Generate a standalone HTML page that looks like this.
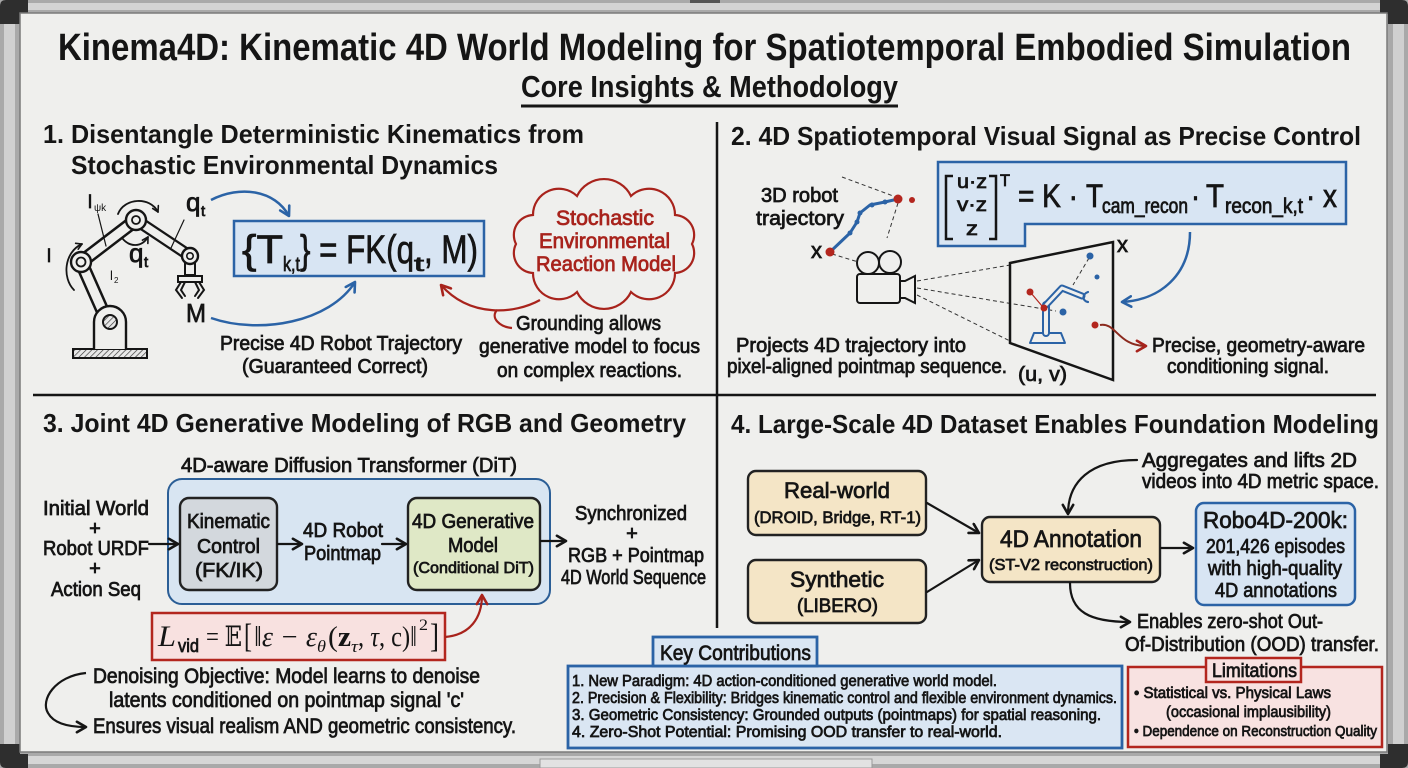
<!DOCTYPE html>
<html><head><meta charset="utf-8">
<style>
html,body{margin:0;padding:0;background:#efefed;overflow:hidden;}
svg{display:block}
text{font-family:"Liberation Sans","DejaVu Sans",sans-serif;fill:#151515;}
.b{font-weight:700}
.m{stroke:#151515;stroke-width:0.75}
.r{fill:#a8231c;stroke:#a8231c;stroke-width:0.75}
.s{font-family:"Liberation Serif","DejaVu Serif",serif;}
.i{font-style:italic}
</style></head><body>
<svg width="1408" height="768" viewBox="0 0 1408 768" xmlns="http://www.w3.org/2000/svg">
<defs>
<marker id="mb" viewBox="0 0 10 10" refX="8" refY="5" markerWidth="13" markerHeight="13" markerUnits="userSpaceOnUse" orient="auto"><path d="M1,1 L8,5 L1,9" fill="none" stroke="#2b63a6" stroke-width="2" stroke-linecap="round" stroke-linejoin="round"/></marker>
<marker id="mr" viewBox="0 0 10 10" refX="8" refY="5" markerWidth="13" markerHeight="13" markerUnits="userSpaceOnUse" orient="auto"><path d="M1,1 L8,5 L1,9" fill="none" stroke="#a8231c" stroke-width="2" stroke-linecap="round" stroke-linejoin="round"/></marker>
<marker id="mk" viewBox="0 0 10 10" refX="8" refY="5" markerWidth="13" markerHeight="13" markerUnits="userSpaceOnUse" orient="auto"><path d="M1,1 L8,5 L1,9" fill="none" stroke="#151515" stroke-width="2" stroke-linecap="round" stroke-linejoin="round"/></marker>
<marker id="ms" viewBox="0 0 10 10" refX="8" refY="5" markerWidth="8" markerHeight="8" markerUnits="userSpaceOnUse" orient="auto"><path d="M1,1 L8,5 L1,9" fill="none" stroke="#151515" stroke-width="2" stroke-linecap="round" stroke-linejoin="round"/></marker>
<pattern id="hatch" width="4" height="4" patternUnits="userSpaceOnUse" patternTransform="rotate(45)"><rect width="4" height="4" fill="#e8e8e8"/><line x1="0" y1="0" x2="0" y2="4" stroke="#333" stroke-width="1.3"/></pattern>
</defs>

<!-- frame -->
<rect x="0" y="0" width="1408" height="768" fill="#a9a9a9"/>
<rect x="4" y="0" width="11" height="768" fill="#d0d0d0"/>
<rect x="1393" y="0" width="11" height="768" fill="#d0d0d0"/>
<rect x="0" y="3" width="1408" height="7" fill="#d3d3d3"/>
<rect x="0" y="756" width="1408" height="8" fill="#d6d6d6"/>
<rect x="540" y="759" width="332" height="9" fill="#e2e2e2" stroke="#999" stroke-width="1"/>
<rect x="690" y="0" width="30" height="3" fill="#555"/>
<path d="M0,24 V6 Q0,0 6,0 H28 V14 H20 V24 Z" fill="#2e2e2e"/>
<path d="M1408,24 V6 Q1408,0 1402,0 H1380 V14 H1388 V24 Z" fill="#2e2e2e"/>
<path d="M0,744 V762 Q0,768 6,768 H28 V754 H20 V744 Z" fill="#2e2e2e"/>
<path d="M1408,744 V762 Q1408,768 1402,768 H1380 V754 H1388 V744 Z" fill="#2e2e2e"/>
<rect x="20" y="13" width="1367" height="739" fill="#efefed" stroke="#7a7a7a" stroke-width="1.5"/>

<!-- title -->
<text x="58" y="60" font-size="38" class="b" textLength="1293" lengthAdjust="spacingAndGlyphs">Kinema4D: Kinematic 4D World Modeling for Spatiotemporal Embodied Simulation</text>
<text x="521" y="97" font-size="31" class="b" textLength="377" lengthAdjust="spacingAndGlyphs">Core Insights &amp; Methodology</text>
<line x1="521" y1="106" x2="898" y2="106" stroke="#151515" stroke-width="3"/>

<!-- dividers -->
<line x1="33" y1="395" x2="1376" y2="395" stroke="#151515" stroke-width="2.5"/>
<line x1="717" y1="122" x2="717" y2="628" stroke="#151515" stroke-width="2.5"/>

<!-- headings -->
<text x="43" y="143" font-size="26" class="b" textLength="541" lengthAdjust="spacingAndGlyphs">1. Disentangle Deterministic Kinematics from</text>
<text x="71" y="174" font-size="26" class="b" textLength="427" lengthAdjust="spacingAndGlyphs">Stochastic Environmental Dynamics</text>
<text x="731" y="145" font-size="26" class="b" textLength="630" lengthAdjust="spacingAndGlyphs">2. 4D Spatiotemporal Visual Signal as Precise Control</text>
<text x="43" y="432" font-size="26" class="b" textLength="643" lengthAdjust="spacingAndGlyphs">3. Joint 4D Generative Modeling of RGB and Geometry</text>
<text x="731" y="433" font-size="26" class="b" textLength="648" lengthAdjust="spacingAndGlyphs">4. Large-Scale 4D Dataset Enables Foundation Modeling</text>

<!-- ===== Section 1 ===== -->
<g stroke="#151515" fill="none" stroke-linecap="round">
  <rect x="73" y="349" width="74" height="9" fill="url(#hatch)" stroke-width="2"/>
  <line x1="104" y1="314" x2="81" y2="262" stroke-width="14"/>
  <line x1="104" y1="314" x2="81" y2="262" stroke="#efefed" stroke-width="9"/>
  <path d="M94 349 V322 A16 16 0 0 1 126 322 V349" fill="#efefed" stroke-width="2.4"/>
  <circle cx="110" cy="322" r="7" fill="url(#hatch)" stroke-width="2"/>
  <line x1="81" y1="262" x2="136" y2="220" stroke-width="14"/>
  <line x1="81" y1="262" x2="136" y2="220" stroke="#efefed" stroke-width="9"/>
  <line x1="136" y1="220" x2="190" y2="256" stroke-width="12"/>
  <line x1="136" y1="220" x2="190" y2="256" stroke="#efefed" stroke-width="7.5"/>
  <circle cx="81" cy="262" r="10" fill="#efefed" stroke-width="2.4"/>
  <circle cx="81" cy="262" r="4.5" stroke-width="1.8"/>
  <circle cx="136" cy="220" r="10" fill="#efefed" stroke-width="2.4"/>
  <circle cx="136" cy="220" r="4" stroke-width="1.8"/>
  <rect x="185" y="262" width="10" height="13" fill="#efefed" stroke-width="2"/>
  <circle cx="190" cy="256" r="8" fill="#efefed" stroke-width="2.4"/>
  <circle cx="190" cy="256" r="3.2" stroke-width="1.6"/>
  <path d="M178 276 H202 V282 H178 Z" fill="#efefed" stroke-width="2"/>
  <path d="M181 282 L176 290 L182 298 M185 282 L181 290 L185 296" stroke-width="2"/>
  <path d="M199 282 L204 290 L198 298 M195 282 L199 290 L195 296" stroke-width="2"/>
  <path d="M74 290 C62 278 64 252 82 244" stroke-width="1.8" marker-end="url(#ms)"/>
  <path d="M118 214 C124 198 150 196 158 212" stroke-width="1.8" marker-end="url(#ms)"/>
  <path d="M122 238 C130 248 142 247 148 237" stroke-width="1.8" marker-end="url(#ms)"/>
  <line x1="184" y1="220" x2="171" y2="248" stroke-width="1.2"/>
  <line x1="98" y1="214" x2="106" y2="246" stroke-width="1.2"/>
</g>
<text x="47" y="262" font-size="18" class="m">l</text>
<text x="88" y="208" font-size="18" class="m">l</text><text x="94" y="211" font-size="10">ψk</text>
<text x="110" y="280" font-size="13">l</text><text x="114" y="283" font-size="8">2</text>
<text x="186" y="211" font-size="26" class="m">q</text><text x="201" y="216" font-size="15" class="m">t</text>
<text x="129" y="262" font-size="26" class="m">q</text><text x="144" y="267" font-size="15" class="m">t</text>
<text x="186" y="322" font-size="26" class="m" textLength="20" lengthAdjust="spacingAndGlyphs">M</text>

<rect x="234" y="221" width="250" height="55" fill="#d8e5f3" stroke="#2b63a6" stroke-width="2.5"/>
<text x="242" y="263" font-size="40" class="m" textLength="41" lengthAdjust="spacingAndGlyphs">{T</text>
<text x="283" y="271" font-size="20" class="m" textLength="17" lengthAdjust="spacingAndGlyphs">k,t</text>
<text x="300" y="263" font-size="40" class="m" textLength="114" lengthAdjust="spacingAndGlyphs">} = FK(q</text>
<text x="414" y="271" font-size="20" class="m" textLength="10" lengthAdjust="spacingAndGlyphs">t</text>
<text x="424" y="263" font-size="40" class="m" textLength="54" lengthAdjust="spacingAndGlyphs">, M)</text>

<path d="M211 200 C240 185 275 190 289 216" fill="none" stroke="#2b63a6" stroke-width="2.5" marker-end="url(#mb)"/>
<path d="M211 318 C260 335 330 322 355 282" fill="none" stroke="#2b63a6" stroke-width="2.5" marker-end="url(#mb)"/>

<path d="M692,244 A20 20 0 0 1 675,273 A26 26 0 0 1 631,292 A30 30 0 0 1 577,292 A26 26 0 0 1 533,273 A20 20 0 0 1 516,244 A20 20 0 0 1 533,215 A26 26 0 0 1 577,196 A30 30 0 0 1 631,196 A26 26 0 0 1 675,215 A20 20 0 0 1 692,244 Z" fill="#efefed" stroke="#a8231c" stroke-width="2.2"/>
<text x="556" y="225" font-size="21" class="r" textLength="98" lengthAdjust="spacingAndGlyphs">Stochastic</text>
<text x="539" y="248" font-size="21" class="r" textLength="131" lengthAdjust="spacingAndGlyphs">Environmental</text>
<text x="536" y="271" font-size="21" class="r" textLength="140" lengthAdjust="spacingAndGlyphs">Reaction Model</text>
<path d="M540 300 C515 314 470 318 441 285" fill="none" stroke="#a8231c" stroke-width="2.2" marker-end="url(#mr)"/>
<path d="M497 310 C490 318 500 327 512 328" fill="none" stroke="#a8231c" stroke-width="2.2"/>

<text x="220" y="350" font-size="20" class="m" textLength="242" lengthAdjust="spacingAndGlyphs">Precise 4D Robot Trajectory</text>
<text x="242" y="373" font-size="20" class="m" textLength="186" lengthAdjust="spacingAndGlyphs">(Guaranteed Correct)</text>
<text x="516" y="330" font-size="20" class="m" textLength="145" lengthAdjust="spacingAndGlyphs">Grounding allows</text>
<text x="479" y="353" font-size="20" class="m" textLength="221" lengthAdjust="spacingAndGlyphs">generative model to focus</text>
<text x="497" y="377" font-size="20" class="m" textLength="185" lengthAdjust="spacingAndGlyphs">on complex reactions.</text>

<!-- ===== Section 2 ===== -->
<path d="M938 162 H1346 V224 H1025 V246 H938 Z" fill="#d8e5f3" stroke="#2b63a6" stroke-width="2.5"/>
<path d="M953 176 H946 V239 H953 M989 176 H996 V239 H989" fill="none" stroke="#151515" stroke-width="2.5"/>
<text x="957" y="188" font-size="19" class="m" textLength="30" lengthAdjust="spacingAndGlyphs">u·z</text>
<text x="957" y="211" font-size="19" class="m" textLength="30" lengthAdjust="spacingAndGlyphs">v·z</text>
<text x="966" y="235" font-size="19" class="m" textLength="12" lengthAdjust="spacingAndGlyphs">z</text>
<text x="1000" y="186" font-size="17" class="m" textLength="10" lengthAdjust="spacingAndGlyphs">T</text>
<text x="1018" y="207" font-size="32" class="m" textLength="60" lengthAdjust="spacingAndGlyphs">= K ·</text>
<text x="1086" y="207" font-size="32" class="m" textLength="17" lengthAdjust="spacingAndGlyphs">T</text>
<text x="1102" y="213" font-size="21" class="m" textLength="86" lengthAdjust="spacingAndGlyphs">cam_recon</text>
<text x="1191" y="207" font-size="32" class="m" textLength="9" lengthAdjust="spacingAndGlyphs">·</text>
<text x="1206" y="207" font-size="32" class="m" textLength="18" lengthAdjust="spacingAndGlyphs">T</text>
<text x="1225" y="213" font-size="21" class="m" textLength="78" lengthAdjust="spacingAndGlyphs">recon_k,t</text>
<text x="1306" y="207" font-size="32" class="m" textLength="31" lengthAdjust="spacingAndGlyphs">· x</text>

<text x="761" y="202" font-size="20" class="m" textLength="77" lengthAdjust="spacingAndGlyphs">3D robot</text>
<text x="756" y="225" font-size="20" class="m" textLength="88" lengthAdjust="spacingAndGlyphs">trajectory</text>
<text x="811" y="258" font-size="22" class="m">x</text>
<text x="1117" y="252" font-size="22" class="m">x</text>

<g fill="none" stroke="#333" stroke-width="1" stroke-dasharray="4 3">
  <line x1="842" y1="177" x2="896" y2="197"/>
  <line x1="898" y1="203" x2="887" y2="238"/>
  <line x1="832" y1="254" x2="878" y2="268"/>
  <line x1="917" y1="281" x2="1010" y2="265"/>
  <line x1="917" y1="288" x2="1056" y2="311"/>
  <line x1="917" y1="295" x2="1010" y2="341"/>
  <line x1="1089" y1="258" x2="1073" y2="285"/>
</g>
<polyline points="830,252 850,233 857,222 860,213 870,205 885,202 898,199" fill="none" stroke="#2b63a6" stroke-width="3" stroke-linejoin="round"/>
<g fill="#2b63a6"><circle cx="850" cy="233" r="2.5"/><circle cx="857" cy="222" r="2.5"/><circle cx="860" cy="213" r="2.5"/><circle cx="872" cy="205" r="2.5"/><circle cx="885" cy="202" r="2.5"/></g>
<g fill="#b3261e"><circle cx="830" cy="252" r="4.5"/><circle cx="898" cy="199" r="4.5"/><circle cx="912" cy="200" r="3"/></g>

<g stroke="#151515" stroke-width="2" fill="#efefed">
  <circle cx="868" cy="263" r="11"/>
  <circle cx="890" cy="262" r="11"/>
  <rect x="857" y="274" width="43" height="29" rx="3"/>
  <path d="M900 281 H905 L915 276 V303 L905 298 H900 Z"/>
</g>
<polygon points="1010,263 1113,242 1113,380 1010,343" fill="none" stroke="#151515" stroke-width="2.5"/>
<g stroke="#2b63a6" fill="none" stroke-linecap="round" stroke-linejoin="round">
  <path d="M1030 343 L1034 333 H1061 L1065 343 Z" stroke-width="2"/>
  <line x1="1046" y1="333" x2="1046" y2="305" stroke-width="8"/>
  <line x1="1046" y1="333" x2="1046" y2="305" stroke="#efefed" stroke-width="4"/>
  <polyline points="1046,305 1062,288 1082,296" stroke-width="7"/>
  <polyline points="1046,305 1062,288 1082,296" stroke="#efefed" stroke-width="3"/>
  <path d="M1088 292 C1082 294 1082 301 1088 302" stroke-width="2.2"/>
</g>
<g><circle cx="1030" cy="292" r="3.5" fill="#b3261e"/><line x1="1031" y1="293" x2="1042" y2="306" stroke="#b3261e" stroke-width="1.2"/><circle cx="1044" cy="308" r="3.5" fill="#b3261e"/><circle cx="1063" cy="312" r="3.5" fill="#2b63a6"/><circle cx="1090" cy="256" r="3.5" fill="#2b63a6"/><circle cx="1097" cy="277" r="2.5" fill="#2b63a6"/><circle cx="1095" cy="325" r="3.5" fill="#b3261e"/></g>
<path d="M1190 232 C1190 275 1160 300 1122 302" fill="none" stroke="#2b63a6" stroke-width="2.5" marker-end="url(#mb)"/>
<path d="M1100 325 C1116 322 1118 346 1146 346" fill="none" stroke="#8b2a1e" stroke-width="2" marker-end="url(#mr)"/>

<text x="1152" y="352" font-size="20" class="m" textLength="213" lengthAdjust="spacingAndGlyphs">Precise, geometry-aware</text>
<text x="1167" y="373" font-size="20" class="m" textLength="162" lengthAdjust="spacingAndGlyphs">conditioning signal.</text>
<text x="736" y="352" font-size="20" class="m" textLength="230" lengthAdjust="spacingAndGlyphs">Projects 4D trajectory into</text>
<text x="727" y="373" font-size="20" class="m" textLength="280" lengthAdjust="spacingAndGlyphs">pixel-aligned pointmap sequence.</text>
<text x="1018" y="381" font-size="20" class="m" textLength="49" lengthAdjust="spacingAndGlyphs">(u, v)</text>

<!-- ===== Section 3 ===== -->
<text x="181" y="472" font-size="20" class="m" textLength="336" lengthAdjust="spacingAndGlyphs">4D-aware Diffusion Transformer (DiT)</text>
<rect x="168" y="479" width="382" height="125" rx="14" fill="#d8e5f2" stroke="#2b5e96" stroke-width="2"/>
<rect x="180" y="498" width="97" height="92" rx="9" fill="#d3d8dd" stroke="#222" stroke-width="2.4"/>
<rect x="408" y="498" width="132" height="92" rx="9" fill="#dfe8c6" stroke="#222" stroke-width="2.4"/>
<text x="187" y="528" font-size="20" class="m" textLength="83" lengthAdjust="spacingAndGlyphs">Kinematic</text>
<text x="197" y="553" font-size="20" class="m" textLength="63" lengthAdjust="spacingAndGlyphs">Control</text>
<text x="195" y="577" font-size="20" class="m" textLength="68" lengthAdjust="spacingAndGlyphs">(FK/IK)</text>
<text x="303" y="537" font-size="20" class="m" textLength="80" lengthAdjust="spacingAndGlyphs">4D Robot</text>
<text x="304" y="560" font-size="20" class="m" textLength="77" lengthAdjust="spacingAndGlyphs">Pointmap</text>
<text x="412" y="528" font-size="20" class="m" textLength="122" lengthAdjust="spacingAndGlyphs">4D Generative</text>
<text x="448" y="552" font-size="20" class="m" textLength="50" lengthAdjust="spacingAndGlyphs">Model</text>
<text x="413" y="573" font-size="16" class="m" textLength="121" lengthAdjust="spacingAndGlyphs">(Conditional DiT)</text>

<text x="43" y="515" font-size="20" class="m" textLength="106" lengthAdjust="spacingAndGlyphs">Initial World</text>
<text x="95" y="535" font-size="20" class="m" text-anchor="middle">+</text>
<text x="43" y="555" font-size="20" class="m" textLength="106" lengthAdjust="spacingAndGlyphs">Robot URDF</text>
<text x="95" y="575" font-size="20" class="m" text-anchor="middle">+</text>
<text x="51" y="596" font-size="20" class="m" textLength="90" lengthAdjust="spacingAndGlyphs">Action Seq</text>

<text x="575" y="520" font-size="20" class="m" textLength="112" lengthAdjust="spacingAndGlyphs">Synchronized</text>
<text x="632" y="540" font-size="20" class="m" text-anchor="middle">+</text>
<text x="568" y="562" font-size="20" class="m" textLength="136" lengthAdjust="spacingAndGlyphs">RGB + Pointmap</text>
<text x="561" y="584" font-size="20" class="m" textLength="145" lengthAdjust="spacingAndGlyphs">4D World Sequence</text>

<g stroke="#151515" stroke-width="2.2" fill="none" stroke-linecap="round">
  <line x1="149" y1="544" x2="178" y2="544" marker-end="url(#mk)"/>
  <line x1="278" y1="544" x2="302" y2="544" marker-end="url(#mk)"/>
  <line x1="382" y1="544" x2="406" y2="544" marker-end="url(#mk)"/>
  <line x1="541" y1="541" x2="566" y2="541" marker-end="url(#mk)"/>
</g>

<rect x="152" y="613" width="293" height="47" fill="#f8e1e0" stroke="#b3261e" stroke-width="2.5"/>
<text x="158" y="646" font-size="30" class="s i" textLength="18" lengthAdjust="spacingAndGlyphs">L</text>
<text x="178" y="652" font-size="18" class="m" textLength="21" lengthAdjust="spacingAndGlyphs">vid</text>
<text x="206" y="646" font-size="28" class="s" textLength="36" lengthAdjust="spacingAndGlyphs">= 𝔼</text>
<text x="244" y="647" font-size="34" class="s" textLength="8" lengthAdjust="spacingAndGlyphs">[</text>
<text x="254" y="646" font-size="28" class="s i" textLength="63" lengthAdjust="spacingAndGlyphs">‖ε − ε</text>
<text x="317" y="652" font-size="17" class="s i" textLength="9" lengthAdjust="spacingAndGlyphs">θ</text>
<text x="328" y="646" font-size="28" class="s" textLength="23" lengthAdjust="spacingAndGlyphs">(<tspan font-weight="700">z</tspan></text>
<text x="351" y="652" font-size="17" class="s i" textLength="7" lengthAdjust="spacingAndGlyphs">τ</text>
<text x="358" y="646" font-size="28" class="s" textLength="59" lengthAdjust="spacingAndGlyphs">, <tspan font-style="italic">τ</tspan>, c)‖</text>
<text x="419" y="630" font-size="16" class="s" textLength="9" lengthAdjust="spacingAndGlyphs">2</text>
<text x="430" y="647" font-size="34" class="s" textLength="9" lengthAdjust="spacingAndGlyphs">]</text>
<path d="M445 637 C470 635 482 618 482 595" fill="none" stroke="#a8231c" stroke-width="2.2" marker-end="url(#mr)"/>

<text x="93" y="683" font-size="21" class="m" textLength="387" lengthAdjust="spacingAndGlyphs">Denoising Objective: Model learns to denoise</text>
<text x="109" y="707" font-size="21" class="m" textLength="355" lengthAdjust="spacingAndGlyphs">latents conditioned on pointmap signal 'c'</text>
<text x="93" y="733" font-size="21" class="m" textLength="423" lengthAdjust="spacingAndGlyphs">Ensures visual realism AND geometric consistency.</text>
<path d="M86 673 C55 676 40 700 48 713 C54 724 70 727 86 727" fill="none" stroke="#151515" stroke-width="2.2" marker-end="url(#mk)"/>

<!-- ===== Section 4 ===== -->
<rect x="748" y="471" width="178" height="64" rx="8" fill="#f4e5c6" stroke="#222" stroke-width="2.4"/>
<rect x="748" y="560" width="178" height="63" rx="8" fill="#f4e5c6" stroke="#222" stroke-width="2.4"/>
<rect x="982" y="517" width="178" height="65" rx="8" fill="#f4e5c6" stroke="#222" stroke-width="2.4"/>
<rect x="1196" y="503" width="159" height="102" rx="8" fill="#d8e5f3" stroke="#2b63a6" stroke-width="2.5"/>
<text x="784" y="498" font-size="22" class="m" textLength="106" lengthAdjust="spacingAndGlyphs">Real-world</text>
<text x="754" y="523" font-size="17" class="m" textLength="167" lengthAdjust="spacingAndGlyphs">(DROID, Bridge, RT-1)</text>
<text x="790" y="587" font-size="22" class="m" textLength="94" lengthAdjust="spacingAndGlyphs">Synthetic</text>
<text x="797" y="612" font-size="19" class="m" textLength="81" lengthAdjust="spacingAndGlyphs">(LIBERO)</text>
<text x="1000" y="547" font-size="24" class="m" textLength="142" lengthAdjust="spacingAndGlyphs">4D Annotation</text>
<text x="989" y="570" font-size="16" class="m" textLength="164" lengthAdjust="spacingAndGlyphs">(ST-V2 reconstruction)</text>
<text x="1203" y="528" font-size="23" class="m" textLength="145" lengthAdjust="spacingAndGlyphs">Robo4D-200k:</text>
<text x="1206" y="553" font-size="20" class="m" textLength="139" lengthAdjust="spacingAndGlyphs">201,426 episodes</text>
<text x="1208" y="575" font-size="20" class="m" textLength="134" lengthAdjust="spacingAndGlyphs">with high-quality</text>
<text x="1215" y="597" font-size="20" class="m" textLength="122" lengthAdjust="spacingAndGlyphs">4D annotations</text>
<g stroke="#151515" stroke-width="2.2" fill="none" stroke-linecap="round">
  <line x1="927" y1="503" x2="979" y2="533" marker-end="url(#mk)"/>
  <line x1="927" y1="592" x2="979" y2="560" marker-end="url(#mk)"/>
  <line x1="1161" y1="548" x2="1193" y2="548" marker-end="url(#mk)"/>
  <path d="M1137 460 C1090 460 1068 482 1068 514" marker-end="url(#mk)"/>
  <path d="M1070 583 C1070 612 1090 622 1130 622" marker-end="url(#mk)"/>
</g>
<text x="1142" y="467" font-size="20" class="m" textLength="215" lengthAdjust="spacingAndGlyphs">Aggregates and lifts 2D</text>
<text x="1142" y="488" font-size="20" class="m" textLength="237" lengthAdjust="spacingAndGlyphs">videos into 4D metric space.</text>
<text x="1137" y="628" font-size="20" class="m" textLength="186" lengthAdjust="spacingAndGlyphs">Enables zero-shot Out-</text>
<text x="1125" y="651" font-size="20" class="m" textLength="254" lengthAdjust="spacingAndGlyphs">Of-Distribution (OOD) transfer.</text>

<!-- Key contributions -->
<rect x="568" y="666" width="554" height="82" fill="#dae6f3" stroke="#2b63a6" stroke-width="2.8"/>
<rect x="653" y="637" width="164" height="29" fill="#dae6f3" stroke="#2b63a6" stroke-width="2.8"/>
<text x="660" y="660" font-size="21" class="m" textLength="151" lengthAdjust="spacingAndGlyphs">Key Contributions</text>
<text x="572" y="686" font-size="16" class="m" textLength="425" lengthAdjust="spacingAndGlyphs">1. New Paradigm: 4D action-conditioned generative world model.</text>
<text x="572" y="703" font-size="16" class="m" textLength="545" lengthAdjust="spacingAndGlyphs">2. Precision &amp; Flexibility: Bridges kinematic control and flexible environment dynamics.</text>
<text x="572" y="720" font-size="16" class="m" textLength="529" lengthAdjust="spacingAndGlyphs">3. Geometric Consistency: Grounded outputs (pointmaps) for spatial reasoning.</text>
<text x="572" y="737" font-size="16" class="m" textLength="430" lengthAdjust="spacingAndGlyphs">4. Zero-Shot Potential: Promising OOD transfer to real-world.</text>

<rect x="1128" y="667" width="254" height="80" fill="#f8e2e1" stroke="#b3261e" stroke-width="2.5"/>
<rect x="1206" y="658" width="95" height="24" fill="#f8e2e1" stroke="#b3261e" stroke-width="2.5"/>
<text x="1212" y="677" font-size="19" class="m" textLength="85" lengthAdjust="spacingAndGlyphs">Limitations</text>
<text x="1134" y="698" font-size="16" class="m" textLength="197" lengthAdjust="spacingAndGlyphs">• Statistical vs. Physical Laws</text>
<text x="1166" y="717" font-size="16" class="m" textLength="165" lengthAdjust="spacingAndGlyphs">(occasional implausibility)</text>
<text x="1134" y="736" font-size="15" class="m" textLength="243" lengthAdjust="spacingAndGlyphs">• Dependence on Reconstruction Quality</text>
</svg>
</body></html>
